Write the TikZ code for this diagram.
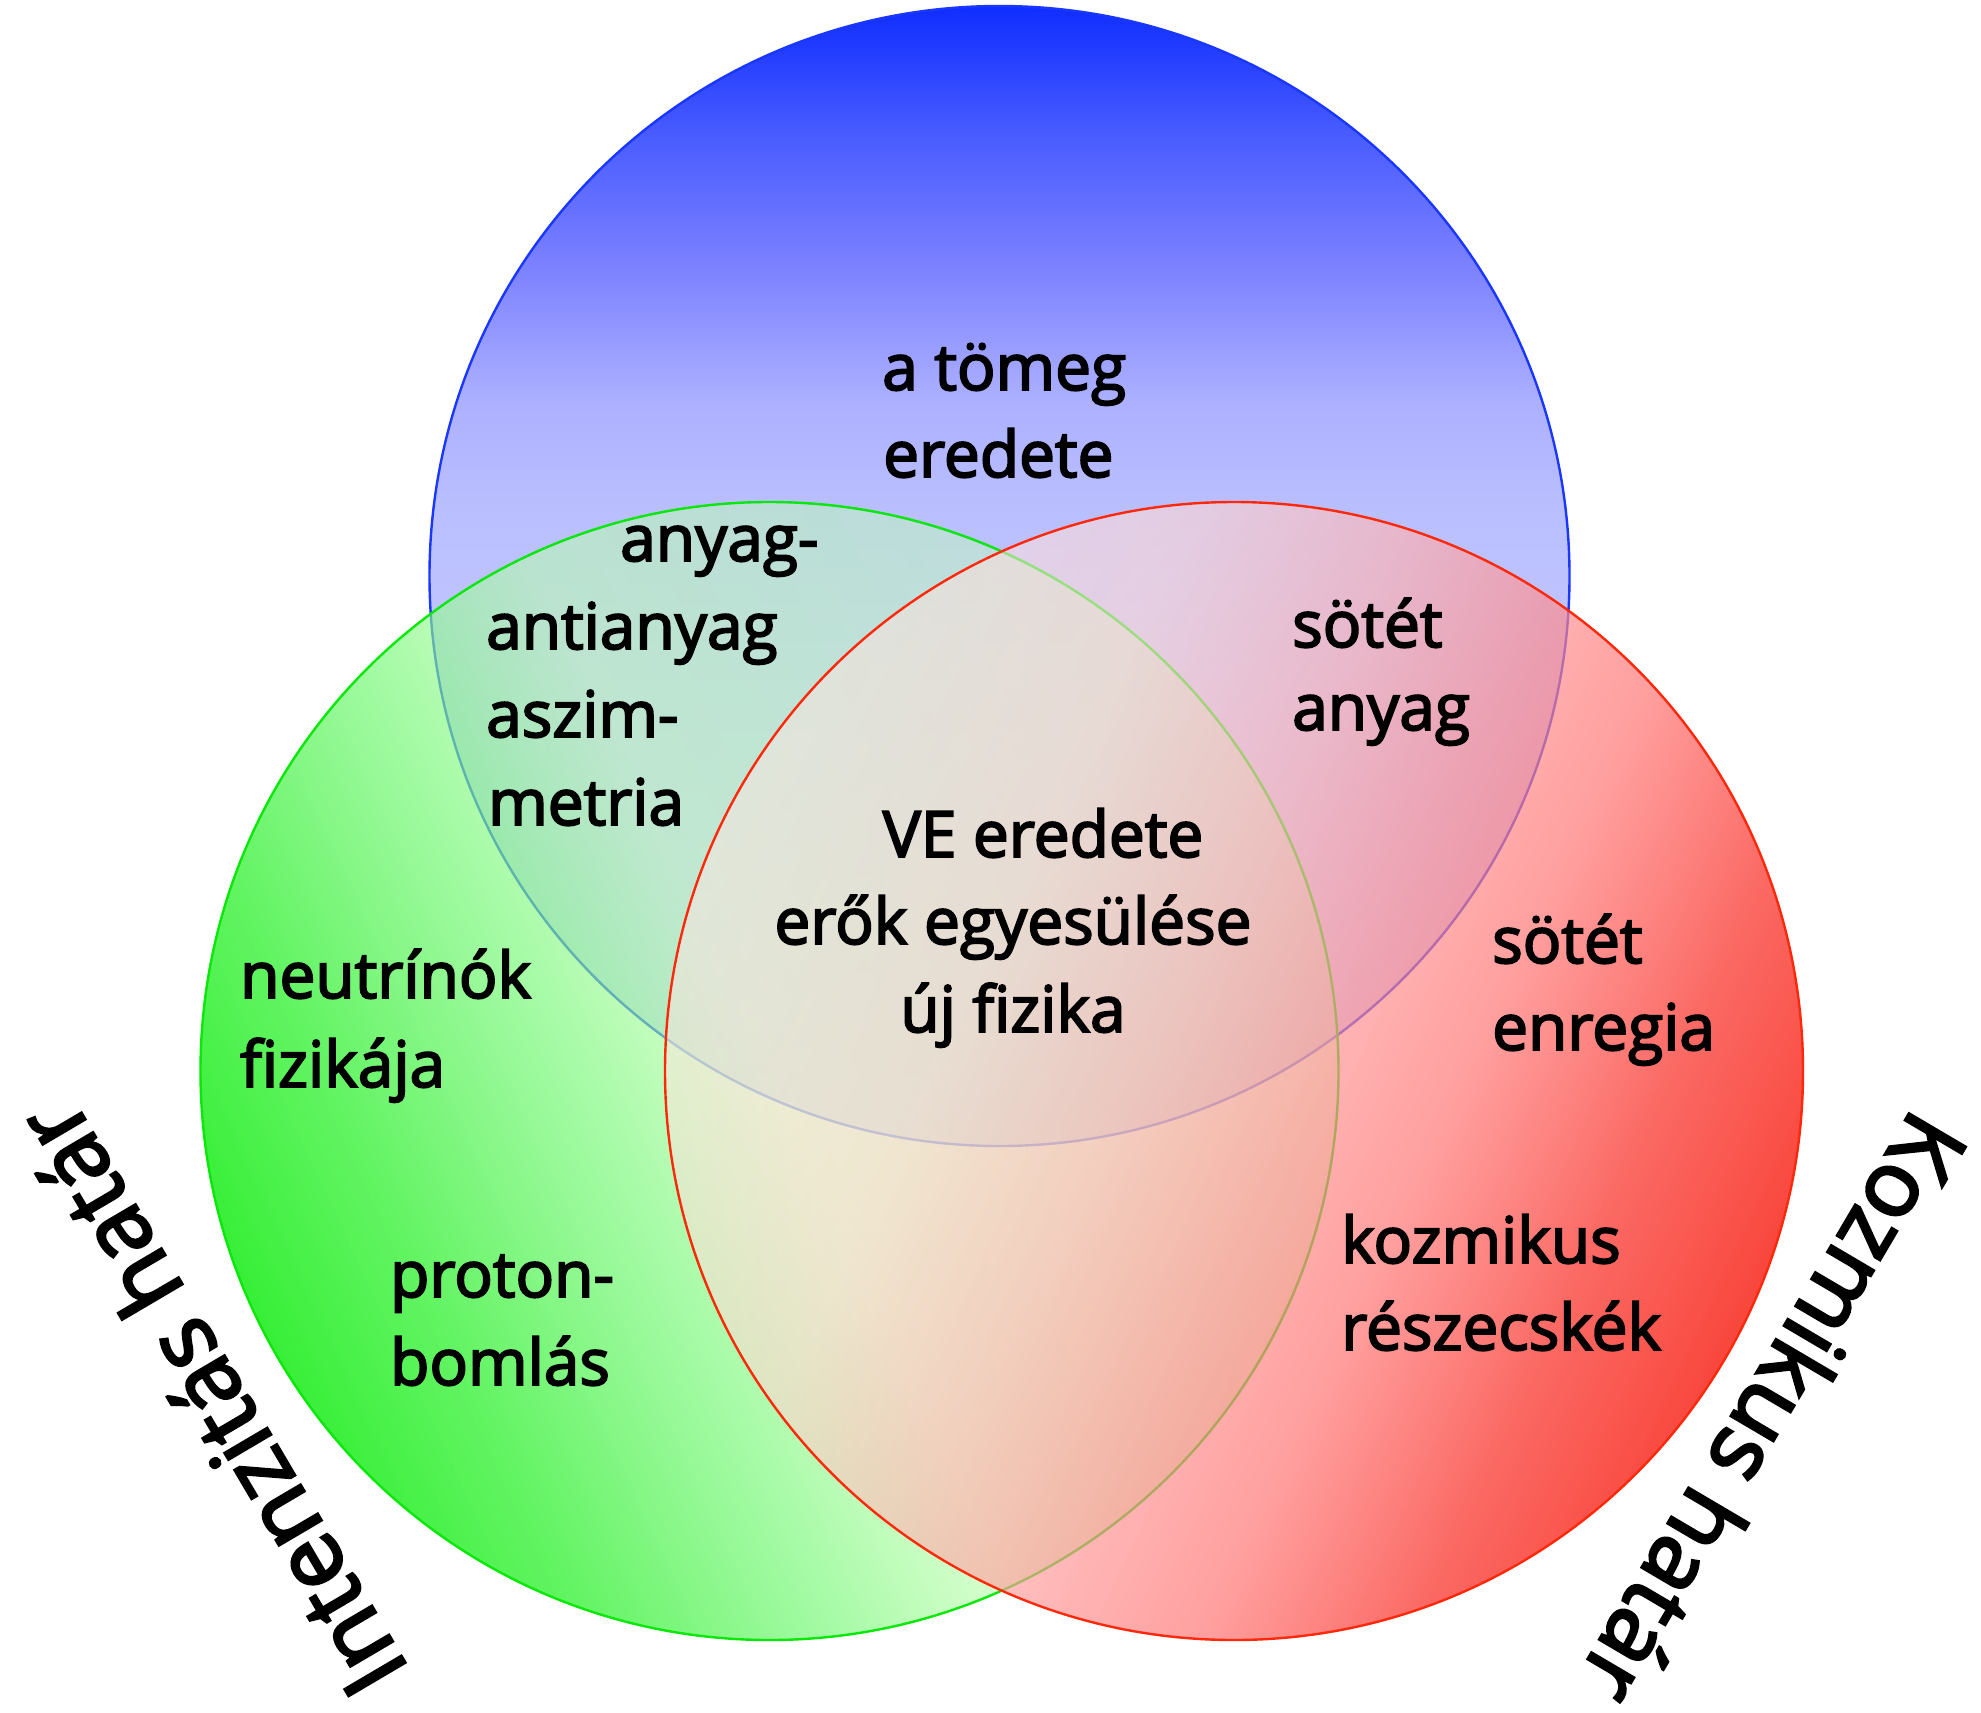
\documentclass[tikz,border=0pt]{standalone}
\usepackage{fontspec}
\setmainfont{Open Sans}[FakeBold=3]
\usetikzlibrary{fadings}

\definecolor{bl1}{RGB}{15,45,255}
\definecolor{bl2}{RGB}{70,90,255}
\definecolor{bl3}{RGB}{125,130,255}
\definecolor{bl4}{RGB}{172,176,255}
\definecolor{bl5}{RGB}{185,190,255}
\definecolor{bl6}{RGB}{195,200,255}
\definecolor{bl7}{RGB}{212,216,255}
\definecolor{blueline}{RGB}{25,55,255}

\definecolor{gr1}{RGB}{20,237,20}
\definecolor{gr2}{RGB}{56,241,56}
\definecolor{gr3}{RGB}{123,249,123}
\definecolor{gr4}{RGB}{185,255,168}
\definecolor{gr5}{RGB}{190,255,175}
\definecolor{gr6}{RGB}{200,255,185}
\definecolor{greenline}{RGB}{10,232,10}

\definecolor{ga1}{gray}{0.85}
\definecolor{ga2}{gray}{0.78}
\definecolor{ga3}{gray}{0.66}
\definecolor{ga4}{gray}{0.54}
\definecolor{ga5}{gray}{0.48}
\definecolor{ga6}{gray}{0.42}

\definecolor{rd1}{RGB}{247,38,26}
\definecolor{rd2}{RGB}{251,68,61}
\definecolor{rd3}{RGB}{255,119,118}
\definecolor{rd4}{RGB}{255,142,142}
\definecolor{rd5}{RGB}{255,176,174}
\definecolor{rd6}{RGB}{255,214,208}
\definecolor{rd7}{RGB}{255,230,225}
\definecolor{redline}{RGB}{255,40,10}

\definecolor{ra1}{gray}{0.85}
\definecolor{ra2}{gray}{0.80}
\definecolor{ra3}{gray}{0.70}
\definecolor{ra4}{gray}{0.67}
\definecolor{ra5}{gray}{0.65}
\definecolor{ra6}{gray}{0.60}
\definecolor{ra7}{gray}{0.50}

\pgfdeclareverticalshading{blueshade}{100bp}{color(0bp)=(bl7); color(25bp)=(bl7); color(45bp)=(bl6); color(53.3bp)=(bl5); color(57.7bp)=(bl4); color(63.4bp)=(bl3); color(69.6bp)=(bl2); color(75bp)=(bl1); color(100bp)=(bl1)}
\pgfdeclarehorizontalshading{greenshade}{100bp}{color(0bp)=(gr1); color(25bp)=(gr1); color(32.5bp)=(gr2); color(42.5bp)=(gr3); color(50bp)=(gr4); color(62.5bp)=(gr5); color(75bp)=(gr6); color(100bp)=(gr6)}
\pgfdeclarehorizontalshading{greenfadesh}{100bp}{color(0bp)=(ga1); color(25bp)=(ga1); color(32.5bp)=(ga2); color(42.5bp)=(ga3); color(50bp)=(ga4); color(62.5bp)=(ga5); color(75bp)=(ga6); color(100bp)=(ga6)}
\pgfdeclarehorizontalshading{redshade}{100bp}{color(0bp)=(rd1); color(25bp)=(rd1); color(32.5bp)=(rd2); color(40.75bp)=(rd3); color(46.5bp)=(rd4); color(53bp)=(rd5); color(62bp)=(rd6); color(75bp)=(rd7); color(100bp)=(rd7)}
\pgfdeclarehorizontalshading{redfadesh}{100bp}{color(0bp)=(ra1); color(25bp)=(ra1); color(32.5bp)=(ra2); color(40.75bp)=(ra3); color(46.5bp)=(ra4); color(53bp)=(ra5); color(62bp)=(ra6); color(75bp)=(ra7); color(100bp)=(ra7)}
\pgfdeclarefading{greenfade}{\pgfuseshading{greenfadesh}}
\pgfdeclarefading{redfade}{\pgfuseshading{redfadesh}}

\newcommand\lblfont{\fontsize{64}{64}\selectfont}
\newcommand\bigfont{\fontsize{92}{92}\selectfont}

\tikzset{
  lbl/.style={inner sep=0pt, anchor=base west, font=\lblfont, text=black},
  lblc/.style={inner sep=0pt, anchor=base, font=\lblfont, text=black},
  side/.style={inner sep=0pt, anchor=base, font=\bigfont, text=black},
  rim/.style={line width=2.4pt}
}

\begin{document}
\begin{tikzpicture}[x=1pt,y=-1pt]
\useasboundingbox (0,0) rectangle (1981,1713);
\fill[white] (0,0) rectangle (1981,1713);

\coordinate (bc) at (999.5,576);
\coordinate (gc) at (769.5,1071);
\coordinate (rc) at (1234,1071);

% blue circle
\shade[shading=blueshade] (bc) circle[radius=570];
\draw[rim, blueline] (bc) circle[radius=570];

% green circle
\begin{scope}[transform canvas={rotate around={25:(gc)}}]
\shade[shading=greenshade, path fading=greenfade] (gc) circle[radius=569];
\end{scope}
\draw[rim, greenline] (gc) circle[radius=569];

% red circle
\begin{scope}[transform canvas={rotate around={155:(rc)}}]
\shade[shading=redshade, path fading=redfade] (rc) circle[radius=569];
\end{scope}
\draw[rim, redline] (rc) circle[radius=569];

% texts
\node[lbl] (tom1) at (882,390) {a tömeg};
\node[lbl] (tom2) at (883,477) {eredete};

\node[lbl] (aa1) at (620,561) {anyag-};
\node[lbl] (aa2) at (486,649) {antianyag};
\node[lbl] (aa3) at (486,737) {aszim-};
\node[lbl] (aa4) at (488,825) {metria};

\node[lbl] (sa1) at (1292,647) {sötét};
\node[lbl] (sa2) at (1292,730) {anyag};

\node[lblc] (ve1) at (1043,857) {VE eredete};
\node[lblc] (ve2) at (1013,944) {erők egyesülése};
\node[lblc] (ve3) at (1013,1032) {új fizika};

\node[lbl] (ne1) at (240,998) {neutrínók};
\node[lbl] (ne2) at (240,1087) {fizikája};

\node[lbl] (pr1) at (390,1297) {proton-};
\node[lbl] (pr2) at (390,1385) {bomlás};

\node[lbl] (se1) at (1492,963) {sötét};
\node[lbl] (se2) at (1492,1050) {enregia};

\node[lbl] (kr1) at (1341,1263) {kozmikus};
\node[lbl] (kr2) at (1341,1350) {részecskék};

\node[side, rotate=120.5] (inth) at (240,1382) {Intenzitás határ};
\node[side, rotate=-120.5] (kozh) at (1745,1392) {Kozmikus határ};
\end{tikzpicture}
\end{document}
